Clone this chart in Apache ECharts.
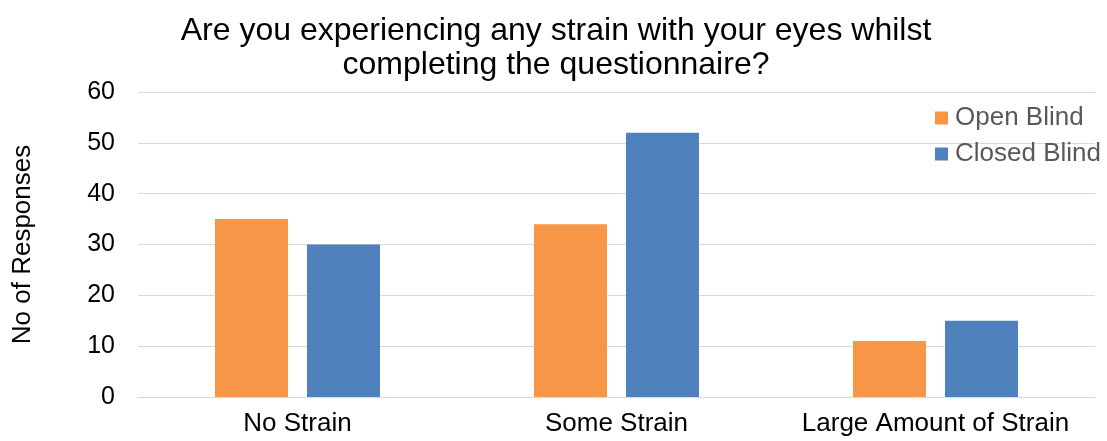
<!DOCTYPE html>
<html>
<head>
<meta charset="utf-8">
<script src="https://cdn.jsdelivr.net/npm/echarts@6/dist/echarts.min.js"></script>
<style>
  html, body { margin: 0; padding: 0; background: #fff; }
  #chart { width: 1107px; height: 441px; }
</style>
</head>
<body>
<div id="chart"></div>
<script>
const categories = ['No Strain', 'Some Strain', 'Large Amount of Strain'];
const openBlind = [35, 34, 11];
const closedBlind = [30, 52, 15];
const seriesNames = ['Open Blind', 'Closed Blind'];
const titleLines = ['Are you experiencing any strain with your eyes whilst', 'completing the questionnaire?'];
const yAxisTitle = 'No of Responses';

const font = 'Liberation Sans, Arial, sans-serif';
const chart = echarts.init(document.getElementById('chart'), null, { renderer: 'canvas' });

chart.setOption({
  animation: false,
  textStyle: { fontFamily: font },
  title: {
    text: titleLines.join('\n'),
    left: 556,
    textAlign: 'center',
    top: 14,
    padding: 0,
    textStyle: { fontFamily: font, fontSize: 32, fontWeight: 'normal', color: '#000', lineHeight: 34 }
  },
  legend: {
    orient: 'vertical',
    left: 935,
    top: 105,
    padding: 0,
    itemWidth: 13,
    itemHeight: 13,
    itemGap: 10,
    icon: 'rect',
    textStyle: { fontFamily: font, fontSize: 26, color: '#595959', padding: [0, 0, 0, 2] },
    data: seriesNames
  },
  grid: { left: 138, right: 12, top: 92, bottom: 44 },
  xAxis: {
    type: 'category',
    data: categories,
    axisLine: { show: true, lineStyle: { color: '#d9d9d9', width: 1 } },
    axisTick: { show: false },
    axisLabel: { fontFamily: font, fontSize: 26, color: '#000', margin: 14, interval: 0 }
  },
  yAxis: {
    type: 'value',
    min: 0,
    max: 60,
    interval: 10,
    name: yAxisTitle,
    nameLocation: 'middle',
    nameGap: 102,
    nameRotate: 90,
    nameTextStyle: { fontFamily: font, fontSize: 26, color: '#000' },
    axisLine: { show: false },
    axisTick: { show: false },
    axisLabel: { fontFamily: font, fontSize: 25, color: '#000', margin: 23 },
    splitLine: { lineStyle: { color: '#d9d9d9', width: 1 } }
  },
  series: [
    {
      name: seriesNames[0],
      type: 'bar',
      data: openBlind,
      barWidth: 73,
      barGap: '26%',
      itemStyle: { color: '#F79646' }
    },
    {
      name: seriesNames[1],
      type: 'bar',
      data: closedBlind,
      barWidth: 73,
      itemStyle: { color: '#4F81BD' }
    }
  ]
});
</script>
</body>
</html>
